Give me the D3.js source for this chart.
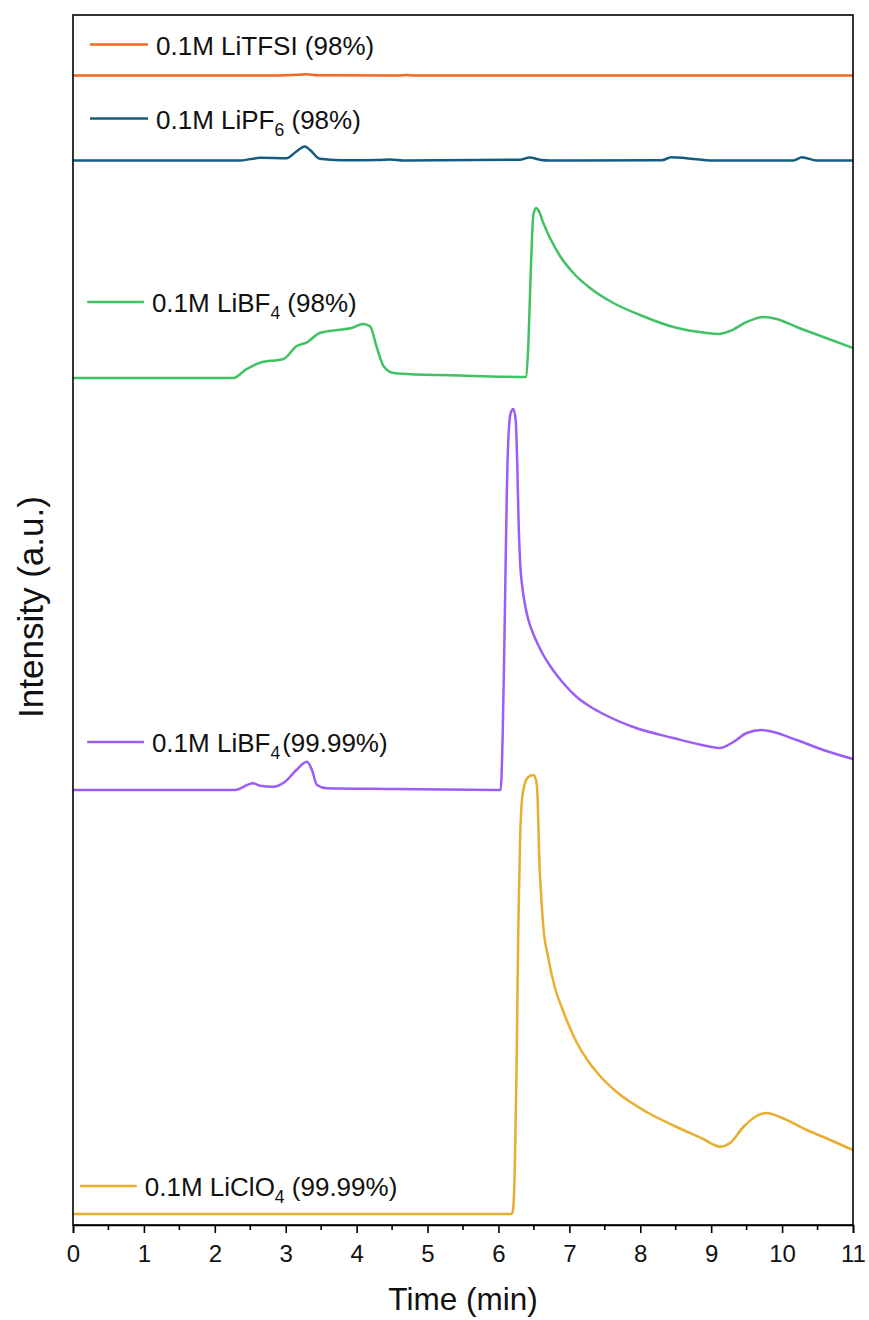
<!DOCTYPE html>
<html>
<head>
<meta charset="utf-8">
<script src="https://cdn.jsdelivr.net/npm/d3@7"></script>
<style>
  html, body { margin: 0; padding: 0; background: #fff; }
  svg { display: block; font-family: "Liberation Sans", Arial, sans-serif; }
</style>
</head>
<body>
<svg id="chart" width="869" height="1320"></svg>
<script>
// Chromatograms: [time (min), intensity above the trace's own baseline (a.u.)]
const liTFSI98 = [
  [0, 0], [2.9, 0], [3.2, 0.08], [3.3, 0.12], [3.45, 0.02], [4.6, 0], [4.7, 0.05], [4.8, 0], [11, 0]
];
const liPF698 = [
  [0, 0], [2.36, 0], [2.64, 0.27], [3.01, 0.23], [3.15, 0.9], [3.27, 1.4], [3.34, 1.07], [3.48, 0.17],
  [3.77, 0.03], [4.3, 0.05], [4.47, 0.1], [4.66, 0], [6.3, 0.07], [6.44, 0.3], [6.6, 0.05], [6.73, 0],
  [8.3, 0.02], [8.44, 0.33], [8.65, 0.23], [9.03, 0], [10.16, 0], [10.28, 0.33], [10.49, 0], [11, 0]
];
const liBF498 = [
  [0, 0], [2.26, 0], [2.45, 0.9], [2.64, 1.53], [2.97, 1.9], [3.15, 3.17], [3.3, 3.57], [3.48, 4.5],
  [3.77, 4.83], [3.93, 5.0], [4.09, 5.4], [4.19, 5.17], [4.28, 3.17], [4.38, 1.17], [4.52, 0.5],
  [4.71, 0.4], [5.55, 0.23], [6.37, 0.1], [6.389, 0.13], [6.421, 3.3], [6.445, 8.3], [6.469, 13.3],
  [6.492, 16.3], [6.53, 17.0], [6.562, 16.8], [6.633, 15.5], [6.727, 14.0], [6.868, 12.2],
  [7.056, 10.5], [7.291, 9.0], [7.62, 7.5], [7.996, 6.3], [8.466, 5.1], [8.937, 4.5], [9.1, 4.4],
  [9.265, 4.7], [9.501, 5.6], [9.735, 6.1], [9.924, 5.9], [10.206, 5.1], [10.581, 4.1], [11.0, 3.0]
];
const liBF49999 = [
  [0, 0], [2.28, 0], [2.54, 0.67], [2.64, 0.43], [2.82, 0.33], [2.99, 0.83], [3.15, 2.0], [3.3, 2.83],
  [3.37, 2.0], [3.44, 0.5], [3.58, 0.17], [4.5, 0.1], [6.03, 0], [6.06, 5.67], [6.078, 12.3],
  [6.097, 20.7], [6.116, 29.0], [6.139, 35.0], [6.173, 37.7], [6.21, 38.1], [6.243, 37.0],
  [6.266, 32.3], [6.286, 26.3], [6.304, 23.0], [6.342, 20.0], [6.368, 18.8], [6.398, 17.7],
  [6.44, 16.6], [6.492, 15.6], [6.56, 14.5], [6.633, 13.5], [6.72, 12.5], [6.821, 11.5],
  [6.95, 10.4], [7.103, 9.3], [7.28, 8.4], [7.479, 7.6], [7.902, 6.3], [8.466, 5.2], [8.937, 4.4],
  [9.124, 4.2], [9.312, 4.8], [9.501, 5.7], [9.712, 6.0], [9.876, 5.8], [10.206, 5.0],
  [10.581, 4.0], [11.0, 3.1]
];
const liClO49999 = [
  [0, 0], [6.187, 0], [6.21, 0.7], [6.233, 5.4], [6.257, 15.4], [6.28, 28.7], [6.304, 37.1],
  [6.328, 41.1], [6.374, 43.1], [6.421, 43.7], [6.492, 43.9], [6.53, 43.4], [6.553, 41.4],
  [6.576, 35.4], [6.6, 32.1], [6.633, 28.7], [6.703, 25.6], [6.797, 22.6], [6.896, 20.6],
  [6.985, 19.0], [7.108, 17.1], [7.244, 15.5], [7.432, 13.8], [7.668, 12.2], [8.09, 10.2],
  [8.514, 8.7], [8.889, 7.5], [9.124, 6.73], [9.265, 7.1], [9.453, 8.7], [9.64, 9.8],
  [9.783, 10.1], [9.97, 9.7], [10.35, 8.4], [10.68, 7.4], [11.0, 6.4]
];

// Stacking offsets (a.u.) for each trace
const seriesData = [liTFSI98, liPF698, liBF498, liBF49999, liClO49999];
const seriesOffsets = [114.95, 106.45, 84.7, 43.5, 1.1];
const seriesColors = ["#EF6A1E", "#125C80", "#40C262", "#9C5CF7", "#E9AE30"];

const xTicks = [0, 1, 2, 3, 4, 5, 6, 7, 8, 9, 10, 11];
const xMinorTicks = [0.5, 1.5, 2.5, 3.5, 4.5, 5.5, 6.5, 7.5, 8.5, 9.5, 10.5];

// Legend label pieces: [main text, subscript, trailing text]
const labelParts = [
  ["0.1M LiTFSI (98%)", "", ""],
  ["0.1M LiPF", "6", " (98%)"],
  ["0.1M LiBF", "4", " (98%)"],
  ["0.1M LiBF", "4", "(99.99%)"],
  ["0.1M LiClO", "4", " (99.99%)"]
];
// Legend anchors in data units: [line start t, line end t, level]
const labelAnchors = [
  [0.24, 1.058, 118.05],
  [0.24, 1.058, 110.65],
  [0.2, 1.0, 92.3],
  [0.2, 1.0, 48.3],
  [0.1, 0.9, 3.9]
];

const svg = d3.select("#chart");
const plotLeft = 73, plotRight = 853, plotTop = 15, plotBottom = 1225;

const x = d3.scaleLinear().domain([0, 11]).range([plotLeft, plotRight]);
const y = d3.scaleLinear().domain([0, 121]).range([plotBottom, plotTop]);

// Traces
seriesData.forEach((pts, i) => {
  const line = d3.line()
    .x(d => x(d[0]))
    .y(d => y(d[1] + seriesOffsets[i]))
    .curve(d3.curveMonotoneX);
  svg.append("path")
    .datum(pts)
    .attr("fill", "none")
    .attr("stroke", seriesColors[i])
    .attr("stroke-width", 2.5)
    .attr("stroke-linejoin", "round")
    .attr("d", line);
});

// Legend entries
labelParts.forEach((parts, i) => {
  const [t0, t1, lv] = labelAnchors[i];
  svg.append("line")
    .attr("x1", x(t0)).attr("x2", x(t1))
    .attr("y1", y(lv)).attr("y2", y(lv))
    .attr("stroke", seriesColors[i]).attr("stroke-width", 2.5);
  const txt = svg.append("text")
    .attr("x", x(t1) + 8)
    .attr("y", y(lv) + 10)
    .attr("font-size", 26)
    .attr("fill", "#111");
  txt.append("tspan").text(parts[0]);
  if (parts[1]) {
    txt.append("tspan").attr("font-size", 17.5).attr("dy", 7).text(parts[1]);
    txt.append("tspan").attr("dy", -7).attr("dx", parts[2].startsWith(" ") ? 0 : 2).text(parts[2]);
  }
});

// Frame
svg.append("rect")
  .attr("x", plotLeft).attr("y", plotTop)
  .attr("width", plotRight - plotLeft).attr("height", plotBottom - plotTop)
  .attr("fill", "none").attr("stroke", "#000").attr("stroke-width", 1.6);

// X axis
const xAxis = svg.append("g")
  .attr("transform", `translate(0,${plotBottom})`)
  .call(d3.axisBottom(x).tickValues(xTicks).tickFormat(d3.format("d")).tickSize(8).tickPadding(12));
xAxis.select(".domain").attr("stroke-width", 1.6);
xAxis.selectAll(".tick line").attr("stroke-width", 1.6);
xAxis.selectAll(".tick text").attr("font-size", 24).attr("font-family", "Liberation Sans, Arial, sans-serif").attr("fill", "#111");

svg.append("g")
  .attr("transform", `translate(0,${plotBottom})`)
  .selectAll("line")
  .data(xMinorTicks)
  .join("line")
  .attr("x1", d => x(d)).attr("x2", d => x(d))
  .attr("y1", 0).attr("y2", 5)
  .attr("stroke", "#000").attr("stroke-width", 1.6);

// Axis titles
svg.append("text")
  .attr("x", (plotLeft + plotRight) / 2).attr("y", 1310)
  .attr("text-anchor", "middle").attr("font-size", 31.5).attr("fill", "#111")
  .text("Time (min)");

svg.append("text")
  .attr("transform", "translate(43,607) rotate(-90)")
  .attr("text-anchor", "middle").attr("font-size", 35).attr("fill", "#111")
  .text("Intensity (a.u.)");
</script>
</body>
</html>
